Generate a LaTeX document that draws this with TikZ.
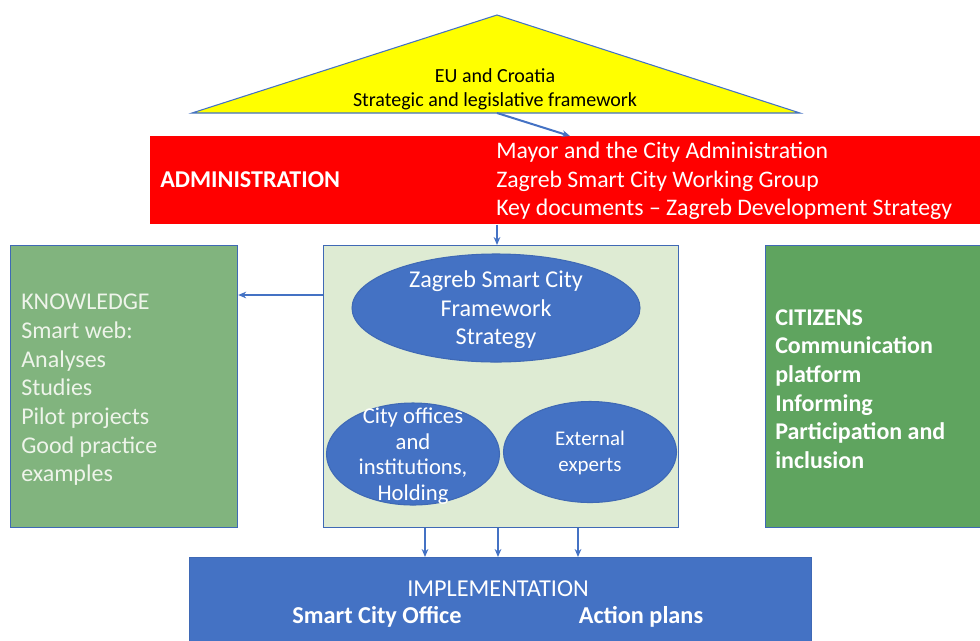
\documentclass[tikz,border=0pt]{standalone}
\usepackage{fontspec}
\setmainfont{Carlito}
\usetikzlibrary{arrows.meta,shapes.geometric,calc}
\definecolor{ublue}{HTML}{4472C4}
\definecolor{bord}{HTML}{3F69B5}
\definecolor{kgreen}{HTML}{81B47E}
\definecolor{cgreen}{HTML}{5FA45F}
\definecolor{lgreen}{HTML}{DEEBD3}
\definecolor{ktext}{HTML}{EEF4EA}
\definecolor{tyellow}{HTML}{FFFF00}
\begin{document}
\begin{tikzpicture}[x=0.75pt,y=-0.75pt,
  box/.style={draw=bord,line width=0.9pt,inner sep=0pt,anchor=north west},
  ell/.style={ellipse,draw=bord,fill=ublue,line width=0.8pt,inner sep=0pt},
  arr/.style={draw=ublue,line width=1.5pt,-{Stealth[length=6pt,width=5pt]}},
  wtxt/.style={text=white,inner sep=0pt}
]
\useasboundingbox (0,0) rectangle (980,640);
% triangle
\coordinate (tapex) at (497,15);
\coordinate (tleft) at (192,113);
\coordinate (tright) at (800,113);
\coordinate (tbase) at (497,113);
\fill[tyellow] (tapex) -- (tleft) -- (tright) -- cycle;
\draw[ublue,line width=0.8pt] (tapex) -- (tleft) -- (tright) -- cycle;
\node[inner sep=0pt,align=center,font=\fontsize{15pt}{18pt}\selectfont] (eu) at (495,89)
  {EU and Croatia\\Strategic and legislative framework};
% administration
\node[fill=red,inner sep=0pt,anchor=north west,minimum width=626.25pt,minimum height=66pt] (adm) at (150,136) {};
\node[wtxt,anchor=west,font=\fontsize{18.1pt}{20pt}\selectfont\bfseries] (admt) at (160,180) {ADMINISTRATION};
\node[wtxt,anchor=west,align=left,font=\fontsize{17.8pt}{21.4pt}\selectfont] (admr) at (496,181)
  {Mayor and the City Administration\\Zagreb Smart City Working Group\\Key documents -- Zagreb Development Strategy};
\coordinate (admin) at (570,136);
% boxes
\node[box,fill=lgreen,minimum width=266.25pt,minimum height=211.5pt] (cen) at (323,245) {};
\node[box,fill=kgreen,minimum width=170.25pt,minimum height=211.5pt] (know) at (10,245) {};
\node[box,fill=cgreen,minimum width=165pt,minimum height=211.5pt] (cit) at (765,245) {};
\node[box,fill=ublue,draw=bord,minimum width=466.5pt,minimum height=66pt] (impl) at (189,557) {};
% ellipses
\node[ell,minimum width=216pt,minimum height=81pt] (e1) at (496,308) {};
\node[wtxt,align=center,font=\fontsize{18.1pt}{21.4pt}\selectfont] (e1t) at (496,310)
  {Zagreb Smart City\\Framework\\Strategy};
\node[ell,minimum width=129.75pt,minimum height=76.5pt] (e2) at (413,454) {};
\node[wtxt,align=center,font=\fontsize{17pt}{19.3pt}\selectfont] (e2t) at (413,456)
  {City offices\\and\\institutions,\\Holding};
\node[ell,minimum width=129.75pt,minimum height=75.75pt] (e3) at (590,452) {};
\node[wtxt,align=center,font=\fontsize{15.7pt}{19pt}\selectfont] (e3t) at (590,453)
  {External\\experts};
% knowledge text
\node[inner sep=0pt,text=ktext,anchor=west,align=left,font=\fontsize{18pt}{21.5pt}\selectfont] (kt) at (21,390)
  {KNOWLEDGE\\Smart web:\\Analyses\\Studies\\Pilot projects\\Good practice\\examples};
% citizens text
\node[wtxt,anchor=west,align=left,font=\fontsize{18pt}{21.5pt}\selectfont\bfseries] (ct) at (775,389)
  {CITIZENS\\Communication\\platform\\Informing\\Participation and\\inclusion};
% implementation text
\node[wtxt,font=\fontsize{18.2pt}{20pt}\selectfont] (it) at (498,589) {IMPLEMENTATION};
\node[wtxt,font=\fontsize{18.2pt}{20pt}\selectfont\bfseries] (io) at (377,617) {Smart City Office};
\node[wtxt,font=\fontsize{18.2pt}{20pt}\selectfont\bfseries] (ia) at (641,617) {Action plans};
% connectors
\draw[arr] (tbase) -- (admin);
\coordinate (x1) at (497,0);
\draw[arr] (x1 |- adm.south) -- (x1 |- cen.north);
\coordinate (y1) at (0,295);
\draw[arr] (cen.west |- y1) -- (know.east |- y1);
\coordinate (b1) at (425,0);
\coordinate (b2) at (498,0);
\coordinate (b3) at (578,0);
\draw[arr] (b1 |- cen.south) -- (b1 |- impl.north);
\draw[arr] (b2 |- cen.south) -- (b2 |- impl.north);
\draw[arr] (b3 |- cen.south) -- (b3 |- impl.north);
\end{tikzpicture}
\end{document}
